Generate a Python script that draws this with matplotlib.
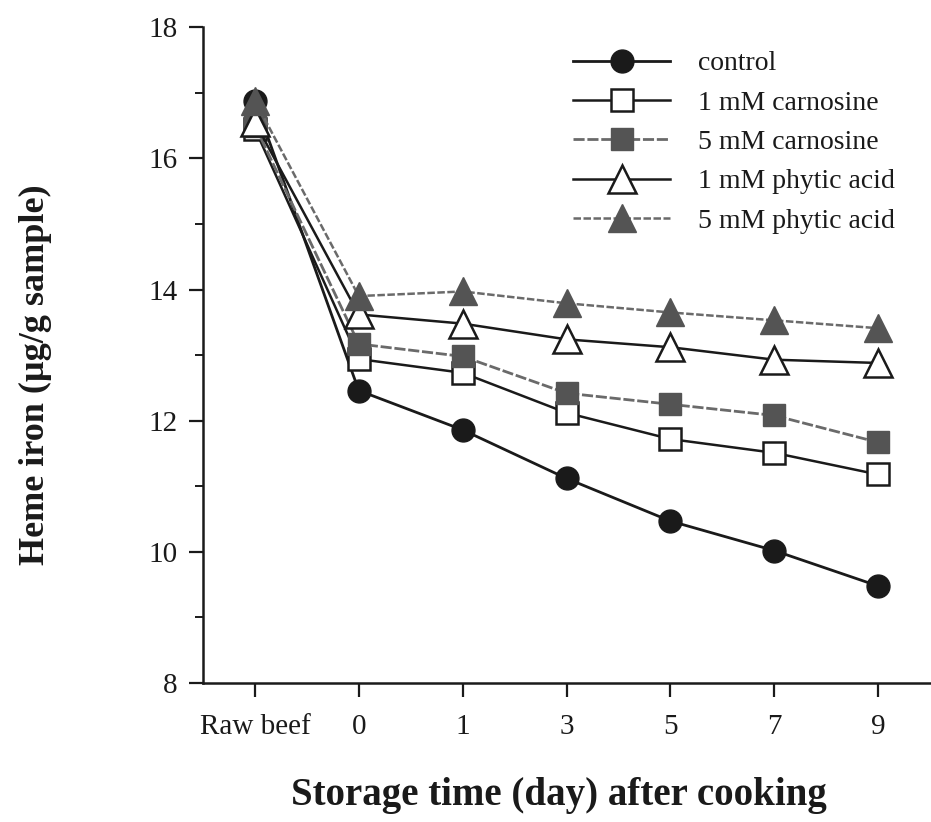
import matplotlib
matplotlib.use("Agg")
import matplotlib.pyplot as plt
from matplotlib.ticker import MultipleLocator

plt.rcParams['font.family'] = ['Liberation Serif', 'DejaVu Serif']

# Storage time categories (days after cooking)
time_labels = ["Raw beef", "0", "1", "3", "5", "7", "9"]

# Heme iron content (µg/g sample)
control = [16.87, 12.46, 11.86, 11.12, 10.47, 10.02, 9.48]
carnosine_1mM = [16.45, 12.94, 12.73, 12.12, 11.72, 11.51, 11.18]
carnosine_5mM = [16.50, 13.17, 12.98, 12.42, 12.25, 12.08, 11.67]
phytic_1mM = [16.55, 13.62, 13.48, 13.24, 13.12, 12.93, 12.88]
phytic_5mM = [16.88, 13.90, 13.97, 13.79, 13.65, 13.53, 13.41]

series_names = ["control", "1 mM carnosine", "5 mM carnosine",
                "1 mM phytic acid", "5 mM phytic acid"]

fig = plt.figure(figsize=(9.31, 8.22), dpi=100)
ax = fig.add_axes([0.218, 0.169, 0.781, 0.798])

x = list(range(len(time_labels)))
dark = "#1a1a1a"
shade = "#545454"
gline = "#6a6a6a"

styles = [
    (control, dict(color=dark, lw=2.0, marker='o', ms=16.5, mfc=dark, mec=dark, ls='-')),
    (carnosine_1mM, dict(color=dark, lw=1.8, marker='s', ms=16, mfc='white', mec=dark, mew=1.8, ls='-')),
    (carnosine_5mM, dict(color=gline, lw=2.0, marker='s', ms=16, mfc=shade, mec=shade, ls=(0, (4, 1)))),
    (phytic_1mM, dict(color=dark, lw=1.8, marker='^', ms=20, mfc='white', mec=dark, mew=1.8, ls='-')),
    (phytic_5mM, dict(color=gline, lw=1.8, marker='^', ms=20, mfc=shade, mec=shade, ls=(0, (3, 1)))),
]

for (vals, st), name in zip(styles, series_names):
    ax.plot(x, vals, label=name, **st)

ax.set_xlim(-0.5, 6.5)
ax.set_ylim(8, 18)
ax.set_xticks(x)
ax.set_xticklabels(time_labels)
ax.yaxis.set_major_locator(MultipleLocator(2))
ax.yaxis.set_minor_locator(MultipleLocator(1))

for side in ("top", "right"):
    ax.spines[side].set_visible(False)
for side in ("left", "bottom"):
    ax.spines[side].set_linewidth(1.8)
    ax.spines[side].set_color(dark)

ax.tick_params(axis='both', which='major', direction='out', length=10, width=1.6,
               labelsize=21, colors=dark, pad=8)
ax.tick_params(axis='y', which='minor', direction='out', length=6, width=1.4, colors=dark)
ax.tick_params(axis='x', pad=12)

ax.set_xlabel("Storage time (day) after cooking", fontsize=28, fontweight='bold', color=dark)
ax.xaxis.set_label_coords(0.49, -0.143)
ax.set_ylabel("Heme iron (µg/g sample)", fontsize=26, fontweight='bold', color=dark)
ax.yaxis.set_label_coords(-0.207, 0.47)

leg = ax.legend(loc='upper left', bbox_to_anchor=(573 / 931, 1 - 51 / 822),
                bbox_transform=fig.transFigure, frameon=False,
                fontsize=20, handlelength=3.5, handletextpad=1.0, labelspacing=0.5,
                borderaxespad=0.0, borderpad=0.0)
for t in leg.get_texts():
    t.set_color(dark)

fig.savefig("out.png", dpi=100, facecolor='white')
